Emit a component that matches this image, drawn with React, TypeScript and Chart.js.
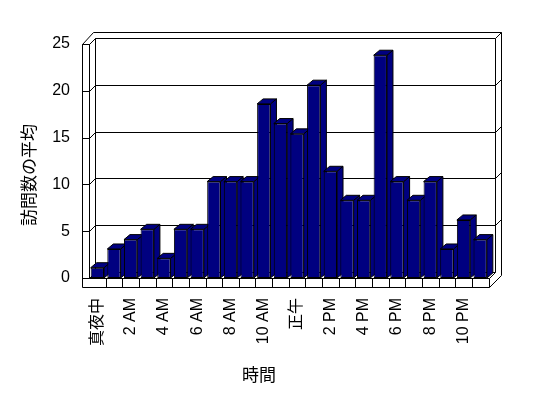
import React, { useEffect, useRef } from 'react';
import { Chart, registerables } from 'chart.js';

Chart.register(...registerables);

const hourLabels = [
  '真夜中', '1 AM', '2 AM', '3 AM', '4 AM', '5 AM', '6 AM', '7 AM', '8 AM', '9 AM', '10 AM', '11 AM',
  '正午', '1 PM', '2 PM', '3 PM', '4 PM', '5 PM', '6 PM', '7 PM', '8 PM', '9 PM', '10 PM', '11 PM',
];
const avgVisits = [
  1.1, 3.1, 4.1, 5.2, 2.1, 5.2, 5.2, 10.3, 10.3, 10.3, 18.6, 16.5,
  15.4, 20.6, 11.4, 8.3, 8.3, 23.8, 10.3, 8.3, 10.3, 3.1, 6.2, 4.1,
];
const yTicks = [0, 5, 10, 15, 20, 25];
const yTitle = '訪問数の平均';
const xTitle = '時間';

const FONT = "'Liberation Sans', 'Noto Sans CJK JP', sans-serif";
const CJK = "'Noto Sans CJK JP', 'Liberation Sans', sans-serif";

const threeD = {
  id: 'threeD',
  beforeDatasetsDraw(chart: any) {
    const { ctx, chartArea: ca, scales } = chart;
    const y = scales.y;
    const L = ca.left, R = ca.right, T = ca.top, B = ca.bottom;
    const dx = 6, dy = -6, wt = 7, ft = 9, od = 6;
    const s = (v: number) => Math.round(v) + 0.5;
    const line = (pts: number[][]) => {
      ctx.beginPath();
      ctx.moveTo(s(pts[0][0]), s(pts[0][1]));
      for (let i = 1; i < pts.length; i++) ctx.lineTo(s(pts[i][0]), s(pts[i][1]));
      ctx.stroke();
    };
    ctx.save();
    ctx.strokeStyle = '#000';
    ctx.lineWidth = 1;
    // left wall front face
    line([[L - wt, T], [L - wt, B + ft]]);
    line([[L, T], [L, B]]);
    line([[L - wt, T], [L, T]]);
    // top of walls
    line([[L - wt, T], [L - wt + 11, T + dy - od], [R + dx + od, T + dy - od]]);
    line([[L, T], [L + dx, T + dy], [R + dx, T + dy], [R + dx + od, T + dy - od]]);
    line([[L + dx, T + dy], [L + dx, B + dy]]);
    line([[R + dx, T + dy], [R + dx, B + dy]]);
    line([[R + dx + od, T + dy - od], [R + dx + od, B + dy + 3]]);
    // floor
    line([[L, B], [R, B]]);
    line([[L - wt, B + ft], [R, B + ft]]);
    line([[R, B], [R, B + ft]]);
    line([[R, B], [R + dx, B + dy]]);
    line([[R, B + ft], [R + dx + od, B + dy + 3]]);
    line([[L + dx, B + dy], [R + dx, B + dy]]);
    // category ticks on floor front
    const n = hourLabels.length;
    for (let i = 1; i < n; i++) {
      const xb = L + (i * (R - L)) / n;
      line([[xb, B], [xb, B + ft]]);
    }
    // gridlines
    yTicks.forEach((v) => {
      const yf = y.getPixelForValue(v);
      line([[L - wt, yf], [L, yf]]);
      line([[L, yf], [L + dx, yf + dy]]);
      if (v > yTicks[0] && v < yTicks[yTicks.length - 1]) {
        line([[L + dx, yf + dy], [R + dx, yf + dy], [R + dx + od, yf + dy - od]]);
      }
    });
    // bar side and top faces
    const bdx = 6, bdy = -5;
    const meta = chart.getDatasetMeta(0);
    ctx.fillStyle = '#000080';
    meta.data.forEach((el: any) => {
      const p = el.getProps(['x', 'y', 'base', 'width'], true);
      const left = p.x - p.width / 2;
      const right = p.x + p.width / 2;
      const top = p.y;
      const base = p.base;
      ctx.beginPath();
      ctx.moveTo(right, top);
      ctx.lineTo(right + bdx, top + bdy);
      ctx.lineTo(right + bdx, base + bdy);
      ctx.lineTo(right, base);
      ctx.closePath();
      ctx.fill();
      ctx.stroke();
      ctx.beginPath();
      ctx.moveTo(left, top);
      ctx.lineTo(left + bdx, top + bdy);
      ctx.lineTo(right + bdx, top + bdy);
      ctx.lineTo(right, top);
      ctx.closePath();
      ctx.fill();
      ctx.stroke();
    });
    ctx.restore();
  },
  afterDraw(chart: any) {
    const { ctx } = chart;
    ctx.save();
    ctx.fillStyle = '#000';
    ctx.font = `17px ${CJK}`;
    ctx.textAlign = 'center';
    ctx.textBaseline = 'middle';
    ctx.fillText(xTitle, 259, 375);
    ctx.translate(29, 175);
    ctx.rotate(-Math.PI / 2);
    ctx.fillText(yTitle, 0, 0);
    ctx.restore();
  },
};

export default function App() {
  const ref = useRef<HTMLCanvasElement>(null);
  useEffect(() => {
    const canvas = ref.current!;
    const chart = new Chart(canvas, {
      type: 'bar',
      data: {
        labels: hourLabels,
        datasets: [
          {
            data: avgVisits,
            backgroundColor: '#000080',
            borderColor: '#000',
            borderWidth: 1,
            borderSkipped: false,
            categoryPercentage: 1,
            barPercentage: 0.8,
          },
        ],
      },
      options: {
        responsive: false,
        animation: false,
        devicePixelRatio: 1,
        layout: { padding: { top: 44, right: 59.5, left: 0, bottom: 0 } },
        plugins: { legend: { display: false }, tooltip: { enabled: false }, title: { display: false } },
        scales: {
          x: {
            grid: { display: false, drawTicks: false },
            border: { display: false },
            afterFit: (sc: any) => { sc.height = 120; },
            ticks: {
              autoSkip: false,
              minRotation: 90,
              maxRotation: 90,
              padding: 20,
              color: '#000',
              font: { family: FONT, size: 16 },
              callback: function (this: any, value: any, index: number) {
                return index % 2 === 0 ? this.getLabelForValue(value) : '';
              },
            },
          },
          y: {
            min: 0,
            max: 25,
            grid: { display: false, drawTicks: false },
            border: { display: false },
            afterFit: (sc: any) => { sc.width = 89; },
            ticks: {
              stepSize: 5,
              padding: 19,
              color: '#000',
              font: { family: FONT, size: 16 },
            },
          },
        },
      },
      plugins: [threeD],
    });
    return () => chart.destroy();
  }, []);
  return (
    <div style={{ position: 'absolute', left: 0, top: 0, width: 548, height: 398, background: '#fff' }}>
      <canvas ref={ref} width={548} height={398} style={{ display: 'block' }} />
    </div>
  );
}
